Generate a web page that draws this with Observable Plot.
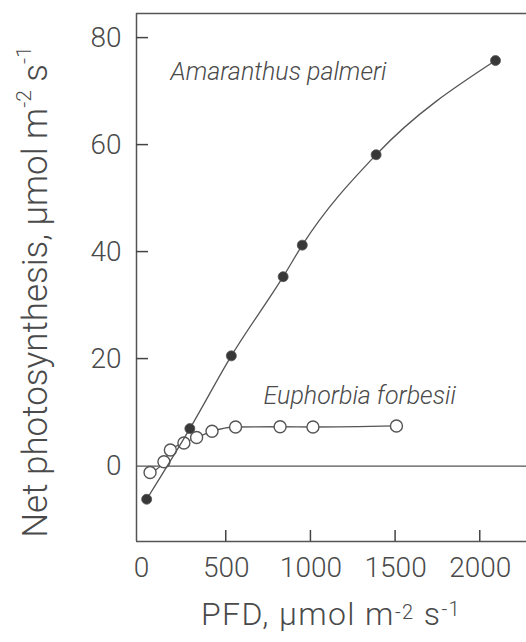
<!DOCTYPE html>
<html><head><meta charset="utf-8">
<script src="https://cdn.jsdelivr.net/npm/d3@7"></script>
<script src="https://cdn.jsdelivr.net/npm/@observablehq/plot@0.6"></script>
<style>html,body{margin:0;padding:0;background:#fff} svg{display:block}</style>
</head><body><div id="chart"></div>
<script>
// Data
const amaranthusPFD = [30, 285, 530, 836, 949, 1385, 2090];
const amaranthusA   = [-6.2, 7.0, 20.6, 35.4, 41.3, 58.2, 75.8];
const euphorbiaPFD  = [50, 132, 170, 250, 325, 416, 555, 818, 1012, 1505];
const euphorbiaA    = [-1.2, 0.8, 3.0, 4.3, 5.35, 6.5, 7.3, 7.35, 7.3, 7.5];
const xTickLabels = [0, 500, 1000, 1500, 2000];
const xTickMarks  = [500, 1000, 1500, 2000];
const yTickLabels = [0, 20, 40, 60, 80];
const yTickMarks  = [20, 40, 60, 80];
const speciesNames = ["Amaranthus palmeri", "Euphorbia forbesii"];
const xDomain = [-30, 2273];
const yDomain = [-14.1, 84.6];

const amaranthus = amaranthusPFD.map((x, i) => ({x, y: amaranthusA[i]}));
const euphorbia  = euphorbiaPFD.map((x, i) => ({x, y: euphorbiaA[i]}));

const W = 526, H = 642, mT = 13, mB = 101, mL = 136, mR = 0;

const ink = "#4a4a4a";
const lineInk = "#555";
const font = "Roboto, 'Liberation Sans', Arial, sans-serif";

const plot = Plot.plot({
  width: W,
  height: H,
  marginTop: mT,
  marginBottom: mB,
  marginLeft: mL,
  marginRight: mR,
  style: {fontFamily: font, fontWeight: 300, color: ink, background: "#fff", overflow: "visible"},
  x: {domain: xDomain},
  y: {domain: yDomain},
  marks: [
    // frame
    Plot.ruleY([yDomain[0], yDomain[1]], {stroke: lineInk, strokeWidth: 1.5}),
    Plot.ruleX([xDomain[0]], {stroke: lineInk, strokeWidth: 1.5}),
    Plot.ruleY([0], {stroke: lineInk, strokeWidth: 1.3}),
    // tick labels
    Plot.axisX(xTickLabels, {anchor: "bottom", tickSize: 0, tickPadding: 16, fontSize: 28, fill: ink, tickFormat: d => String(d), label: null}),
    Plot.axisY(yTickLabels, {anchor: "left", tickSize: 0, tickPadding: 15, fontSize: 28, fill: ink, tickFormat: d => String(d), label: null}),
    // Euphorbia
    Plot.line(euphorbia, {x: "x", y: "y", curve: "monotone-x", stroke: lineInk, strokeWidth: 1.3}),
    Plot.dot(euphorbia, {x: "x", y: "y", r: 6, fill: "#fff", stroke: lineInk, strokeWidth: 1.4}),
    // Amaranthus
    Plot.line(amaranthus, {x: "x", y: "y", curve: "monotone-x", stroke: lineInk, strokeWidth: 1.3}),
    Plot.dot(amaranthus, {x: "x", y: "y", r: 5, fill: "#383838", stroke: "#555", strokeWidth: 0.8}),
    // species labels
    Plot.text([speciesNames[0]], {x: 171, y: 72.2, text: d => d, textAnchor: "start", lineAnchor: "bottom", fontSize: 25, fontStyle: "italic", fill: ink}),
    Plot.text([speciesNames[1]], {x: 720, y: 11.6, text: d => d, textAnchor: "start", lineAnchor: "bottom", fontSize: 25, fontStyle: "italic", fill: ink})
  ]
});

document.getElementById("chart").appendChild(plot);

const svg = d3.select(plot);
const sx = plot.scale("x"), sy = plot.scale("y");
const x0 = sx.apply(xDomain[0]), y0 = sy.apply(yDomain[0]);

// inward ticks, placed with Plot's own scales
const ticks = svg.append("g").attr("stroke", "#444").attr("stroke-width", 1.5);
ticks.selectAll("line.xt").data(xTickMarks).join("line")
  .attr("class", "xt")
  .attr("x1", d => sx.apply(d)).attr("x2", d => sx.apply(d))
  .attr("y1", y0).attr("y2", y0 - 11);
ticks.selectAll("line.yt").data(yTickMarks).join("line")
  .attr("class", "yt")
  .attr("x1", x0).attr("x2", x0 + 12)
  .attr("y1", d => sy.apply(d)).attr("y2", d => sy.apply(d));

// x-axis label
const xl = svg.append("text")
  .attr("x", 331).attr("y", 625)
  .attr("text-anchor", "middle")
  .attr("fill", ink)
  .style("font-family", font).style("font-weight", 300)
  .style("letter-spacing", "1.4px")
  .style("font-size", "32px");
xl.append("tspan").text("PFD, μmol m");
xl.append("tspan").attr("dy", -6).style("font-size", "20px").text("-2");
xl.append("tspan").attr("dy", 6).text(" s");
xl.append("tspan").attr("dy", -9).style("font-size", "20px").text("-1");

// y-axis label
const yl = svg.append("text")
  .attr("transform", "translate(47,292) rotate(-90)")
  .attr("text-anchor", "middle")
  .attr("fill", ink)
  .style("font-family", font).style("font-weight", 300)
  .style("font-size", "35px");
yl.append("tspan").text("Net photosynthesis, μmol m");
yl.append("tspan").attr("dy", -16).style("font-size", "21px").text("-2");
yl.append("tspan").attr("dy", 16).text(" s");
yl.append("tspan").attr("dy", -16).style("font-size", "21px").text("-1");
</script>
</body></html>
